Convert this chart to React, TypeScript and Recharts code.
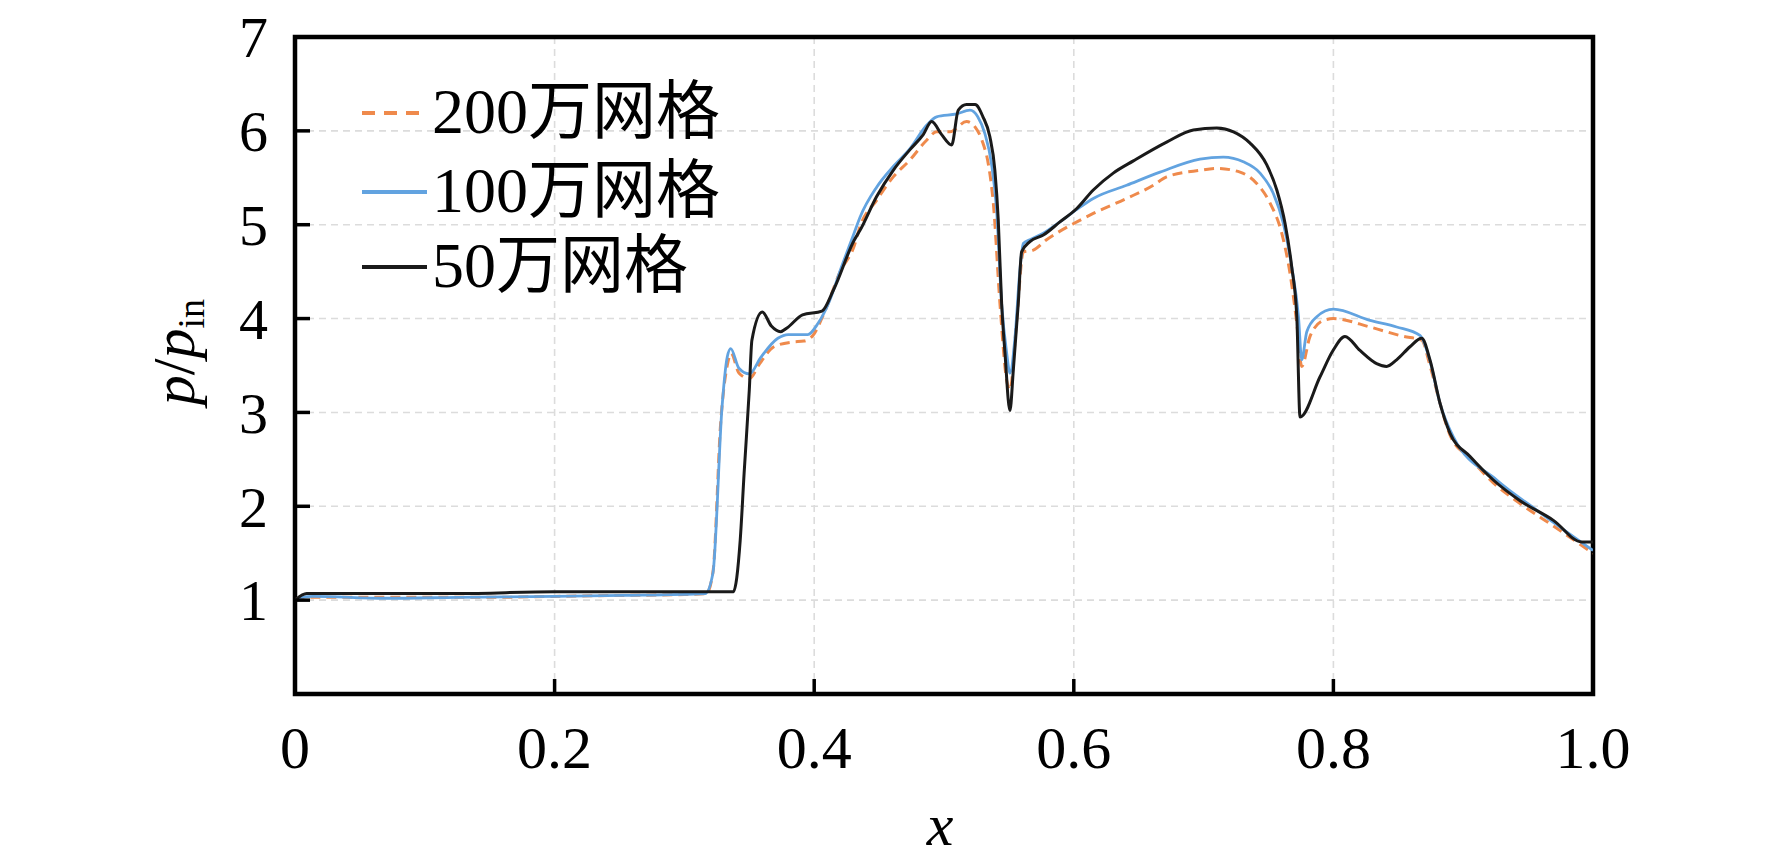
import { CartesianGrid, Legend, Line, LineChart, ReferenceArea, XAxis, YAxis } from 'recharts'

// 200万网格
const x200 = [0, 0.005, 0.05, 0.1, 0.15, 0.2, 0.25, 0.3, 0.317, 0.322, 0.328, 0.333, 0.336, 0.342, 0.35, 0.358, 0.369, 0.383, 0.392, 0.399, 0.408, 0.42, 0.431, 0.4353, 0.4481, 0.4609, 0.4738, 0.4866, 0.4943, 0.5046, 0.5174, 0.524, 0.53, 0.5341, 0.538, 0.5431, 0.5483, 0.5508, 0.556, 0.5611, 0.5688, 0.579, 0.5996, 0.615, 0.6407, 0.6613, 0.6715, 0.6972, 0.7101, 0.7281, 0.7409, 0.7512, 0.7602, 0.7666, 0.7718, 0.7756, 0.782, 0.7923, 0.8, 0.8282, 0.8539, 0.868, 0.8744, 0.8821, 0.8898, 0.9053, 0.9232, 0.9438, 0.9695, 1.0]
const p200 = [1.0, 1.03, 1.03, 1.03, 1.03, 1.04, 1.05, 1.06, 1.07, 1.3, 2.9, 3.5, 3.63, 3.42, 3.36, 3.52, 3.7, 3.75, 3.76, 3.82, 4.07, 4.5, 4.78, 4.98, 5.26, 5.51, 5.69, 5.9, 5.99, 5.99, 6.1, 6.04, 5.87, 5.65, 5.23, 4.16, 3.34, 3.24, 3.98, 4.71, 4.73, 4.84, 5.01, 5.12, 5.28, 5.42, 5.51, 5.58, 5.6, 5.56, 5.44, 5.23, 4.91, 4.48, 3.95, 3.49, 3.81, 3.98, 4.0, 3.91, 3.81, 3.77, 3.5, 3.1, 2.76, 2.51, 2.25, 2.03, 1.79, 1.5]

// 100万网格
const x100 = [0, 0.005, 0.014, 0.07, 0.125, 0.2, 0.253, 0.316, 0.322, 0.329, 0.333, 0.3357, 0.342, 0.35, 0.359, 0.372, 0.38, 0.395, 0.403, 0.411, 0.421, 0.431, 0.4353, 0.4481, 0.4609, 0.4738, 0.4866, 0.4943, 0.5097, 0.52, 0.526, 0.5315, 0.5366, 0.5405, 0.5444, 0.5483, 0.5508, 0.5547, 0.5585, 0.5611, 0.5662, 0.5765, 0.5893, 0.6021, 0.615, 0.6407, 0.6664, 0.6972, 0.7152, 0.7306, 0.7435, 0.7538, 0.7615, 0.7679, 0.7731, 0.7756, 0.7795, 0.7872, 0.8, 0.8282, 0.8487, 0.8667, 0.8744, 0.8821, 0.8924, 0.9258, 0.9565, 1.0]
const p100 = [1.0, 1.03, 1.04, 1.02, 1.03, 1.04, 1.05, 1.07, 1.29, 3.06, 3.59, 3.68, 3.47, 3.41, 3.59, 3.79, 3.83, 3.83, 3.95, 4.16, 4.55, 4.92, 5.08, 5.4, 5.62, 5.81, 6.06, 6.15, 6.18, 6.22, 6.15, 5.97, 5.65, 5.16, 4.16, 3.63, 3.42, 3.8, 4.52, 4.8, 4.84, 4.91, 5.03, 5.16, 5.28, 5.42, 5.56, 5.7, 5.72, 5.67, 5.55, 5.33, 5.01, 4.55, 4.02, 3.56, 3.86, 4.02, 4.1, 3.98, 3.91, 3.82, 3.55, 3.1, 2.74, 2.28, 1.96, 1.53]

// 50万网格
const x50 = [0, 0.009, 0.05, 0.125, 0.2, 0.253, 0.3377, 0.343, 0.346, 0.35, 0.352, 0.36, 0.367, 0.374, 0.379, 0.391, 0.406, 0.415, 0.431, 0.4353, 0.4481, 0.4609, 0.4738, 0.484, 0.4905, 0.4982, 0.5059, 0.511, 0.5174, 0.524, 0.53, 0.5353, 0.5392, 0.5418, 0.5444, 0.547, 0.5508, 0.5534, 0.5572, 0.5598, 0.5662, 0.5765, 0.5893, 0.6021, 0.615, 0.6304, 0.6459, 0.6715, 0.6921, 0.7101, 0.723, 0.7358, 0.7486, 0.7564, 0.7628, 0.7679, 0.7718, 0.7743, 0.7897, 0.7997, 0.8089, 0.8205, 0.8333, 0.841, 0.8487, 0.859, 0.868, 0.8744, 0.8821, 0.8898, 0.9053, 0.9232, 0.9438, 0.9695, 0.9913, 1.0]
const p50 = [1.0, 1.07, 1.07, 1.07, 1.09, 1.09, 1.09, 1.64, 2.35, 3.24, 3.77, 4.07, 3.92, 3.86, 3.9, 4.04, 4.08, 4.31, 4.84, 4.94, 5.3, 5.58, 5.8, 5.96, 6.1, 5.96, 5.85, 6.22, 6.28, 6.28, 6.15, 5.94, 5.58, 5.05, 4.16, 3.63, 3.02, 3.45, 4.16, 4.71, 4.82, 4.89, 5.03, 5.17, 5.37, 5.55, 5.68, 5.88, 6.01, 6.03, 5.99, 5.87, 5.64, 5.37, 5.01, 4.55, 4.02, 2.95, 3.38, 3.66, 3.81, 3.66, 3.52, 3.49, 3.56, 3.7, 3.79, 3.56, 3.1, 2.78, 2.53, 2.28, 2.06, 1.85, 1.62, 1.62]

const xTicks = [0, 0.2, 0.4, 0.6, 0.8, 1.0]
const yTicks = [1, 2, 3, 4, 5, 6, 7]

const toPoints = (xs: number[], ps: number[]) => xs.map((x, i) => ({ x, v: ps[i] }))

const series = [
  { name: '200万网格', data: toPoints(x200, p200), color: '#ef8a4c', width: 3, dash: '10 6', legendDash: '13 9' },
  { name: '100万网格', data: toPoints(x100, p100), color: '#62a3e0', width: 2.8, dash: undefined, legendDash: undefined },
  { name: '50万网格', data: toPoints(x50, p50), color: '#1a1a1a', width: 3, dash: undefined, legendDash: undefined },
]

const SERIF = "'Liberation Serif', 'Times New Roman', serif"
const CJK = "'Liberation Serif', 'Noto Sans CJK SC', serif"

const YTick = ({ x, y, payload }: any) => (
  <g>
    <line x1={x} x2={x + 15} y1={y} y2={y} stroke="#000" strokeWidth={3.5} />
    <text x={x - 27} y={y} dy="0.35em" textAnchor="end" fontSize={58} fontFamily={SERIF} fill="#000">
      {payload.value}
    </text>
  </g>
)

const XTick = ({ x, y, payload }: any) => (
  <g>
    <line x1={x} x2={x} y1={y} y2={y - 15} stroke="#000" strokeWidth={3.5} />
    <text x={x} y={y + 74} textAnchor="middle" fontSize={60} fontFamily={SERIF} fill="#000">
      {payload.value === 0 ? '0' : payload.value.toFixed(1)}
    </text>
  </g>
)

const YLabel = () => (
  <text
    x={194}
    y={352}
    transform="rotate(-90, 194, 352)"
    textAnchor="middle"
    fontSize={60}
    fontFamily={SERIF}
    fill="#000"
  >
    <tspan fontStyle="italic">p</tspan>
    <tspan>/</tspan>
    <tspan fontStyle="italic">p</tspan>
    <tspan fontSize={38} dy={10}>in</tspan>
  </text>
)

const XLabel = () => (
  <text x={940} y={845} textAnchor="middle" fontSize={60} fontStyle="italic" fontFamily={SERIF} fill="#000">
    x
  </text>
)

const LegendBox = () => (
  <svg width={800} height={300} style={{ display: 'block' }}>
    {series.map((s, i) => {
      const rowY = [113, 192, 267][i]
      return (
        <g key={s.name}>
          <line x1={362} x2={427} y1={rowY} y2={rowY} stroke={s.color} strokeWidth={4} strokeDasharray={s.legendDash} />
          <text x={432} y={rowY + 20} fontSize={64} fontFamily={CJK} fill="#000">
            {s.name}
          </text>
        </g>
      )
    })}
  </svg>
)

export default function App() {
  return (
    <div style={{ position: 'absolute', left: 0, top: 0, background: '#fff' }}>
      <LineChart width={1772} height={857} margin={{ top: 37, right: 179, left: 0, bottom: 0 }}>
        <CartesianGrid stroke="#dcdcdc" strokeWidth={1.6} strokeDasharray="7 5" />
        <XAxis
          type="number"
          dataKey="x"
          domain={[0, 1]}
          ticks={xTicks}
          height={163}
          axisLine={false}
          tickLine={false}
          tickSize={0}
          tickMargin={0}
          tick={<XTick />}
          label={<XLabel />}
          allowDataOverflow
        />
        <YAxis
          type="number"
          domain={[0, 7]}
          ticks={yTicks}
          width={295}
          axisLine={false}
          tickLine={false}
          tickSize={0}
          tickMargin={0}
          tick={<YTick />}
          label={<YLabel />}
          allowDataOverflow
        />
        {series.map((s) => (
          <Line
            key={s.name}
            data={s.data}
            dataKey="v"
            name={s.name}
            type="monotone"
            stroke={s.color}
            strokeWidth={s.width}
            strokeDasharray={s.dash}
            dot={false}
            isAnimationActive={false}
          />
        ))}
        <ReferenceArea x1={0} x2={1} y1={0} y2={7} fill="none" stroke="#000" strokeWidth={4.5} ifOverflow="visible" />
        <Legend
          layout="vertical"
          align="center"
          verticalAlign="middle"
          content={<LegendBox />}
          wrapperStyle={{ left: 0, top: 0, width: 800, height: 300 }}
        />
      </LineChart>
    </div>
  )
}
